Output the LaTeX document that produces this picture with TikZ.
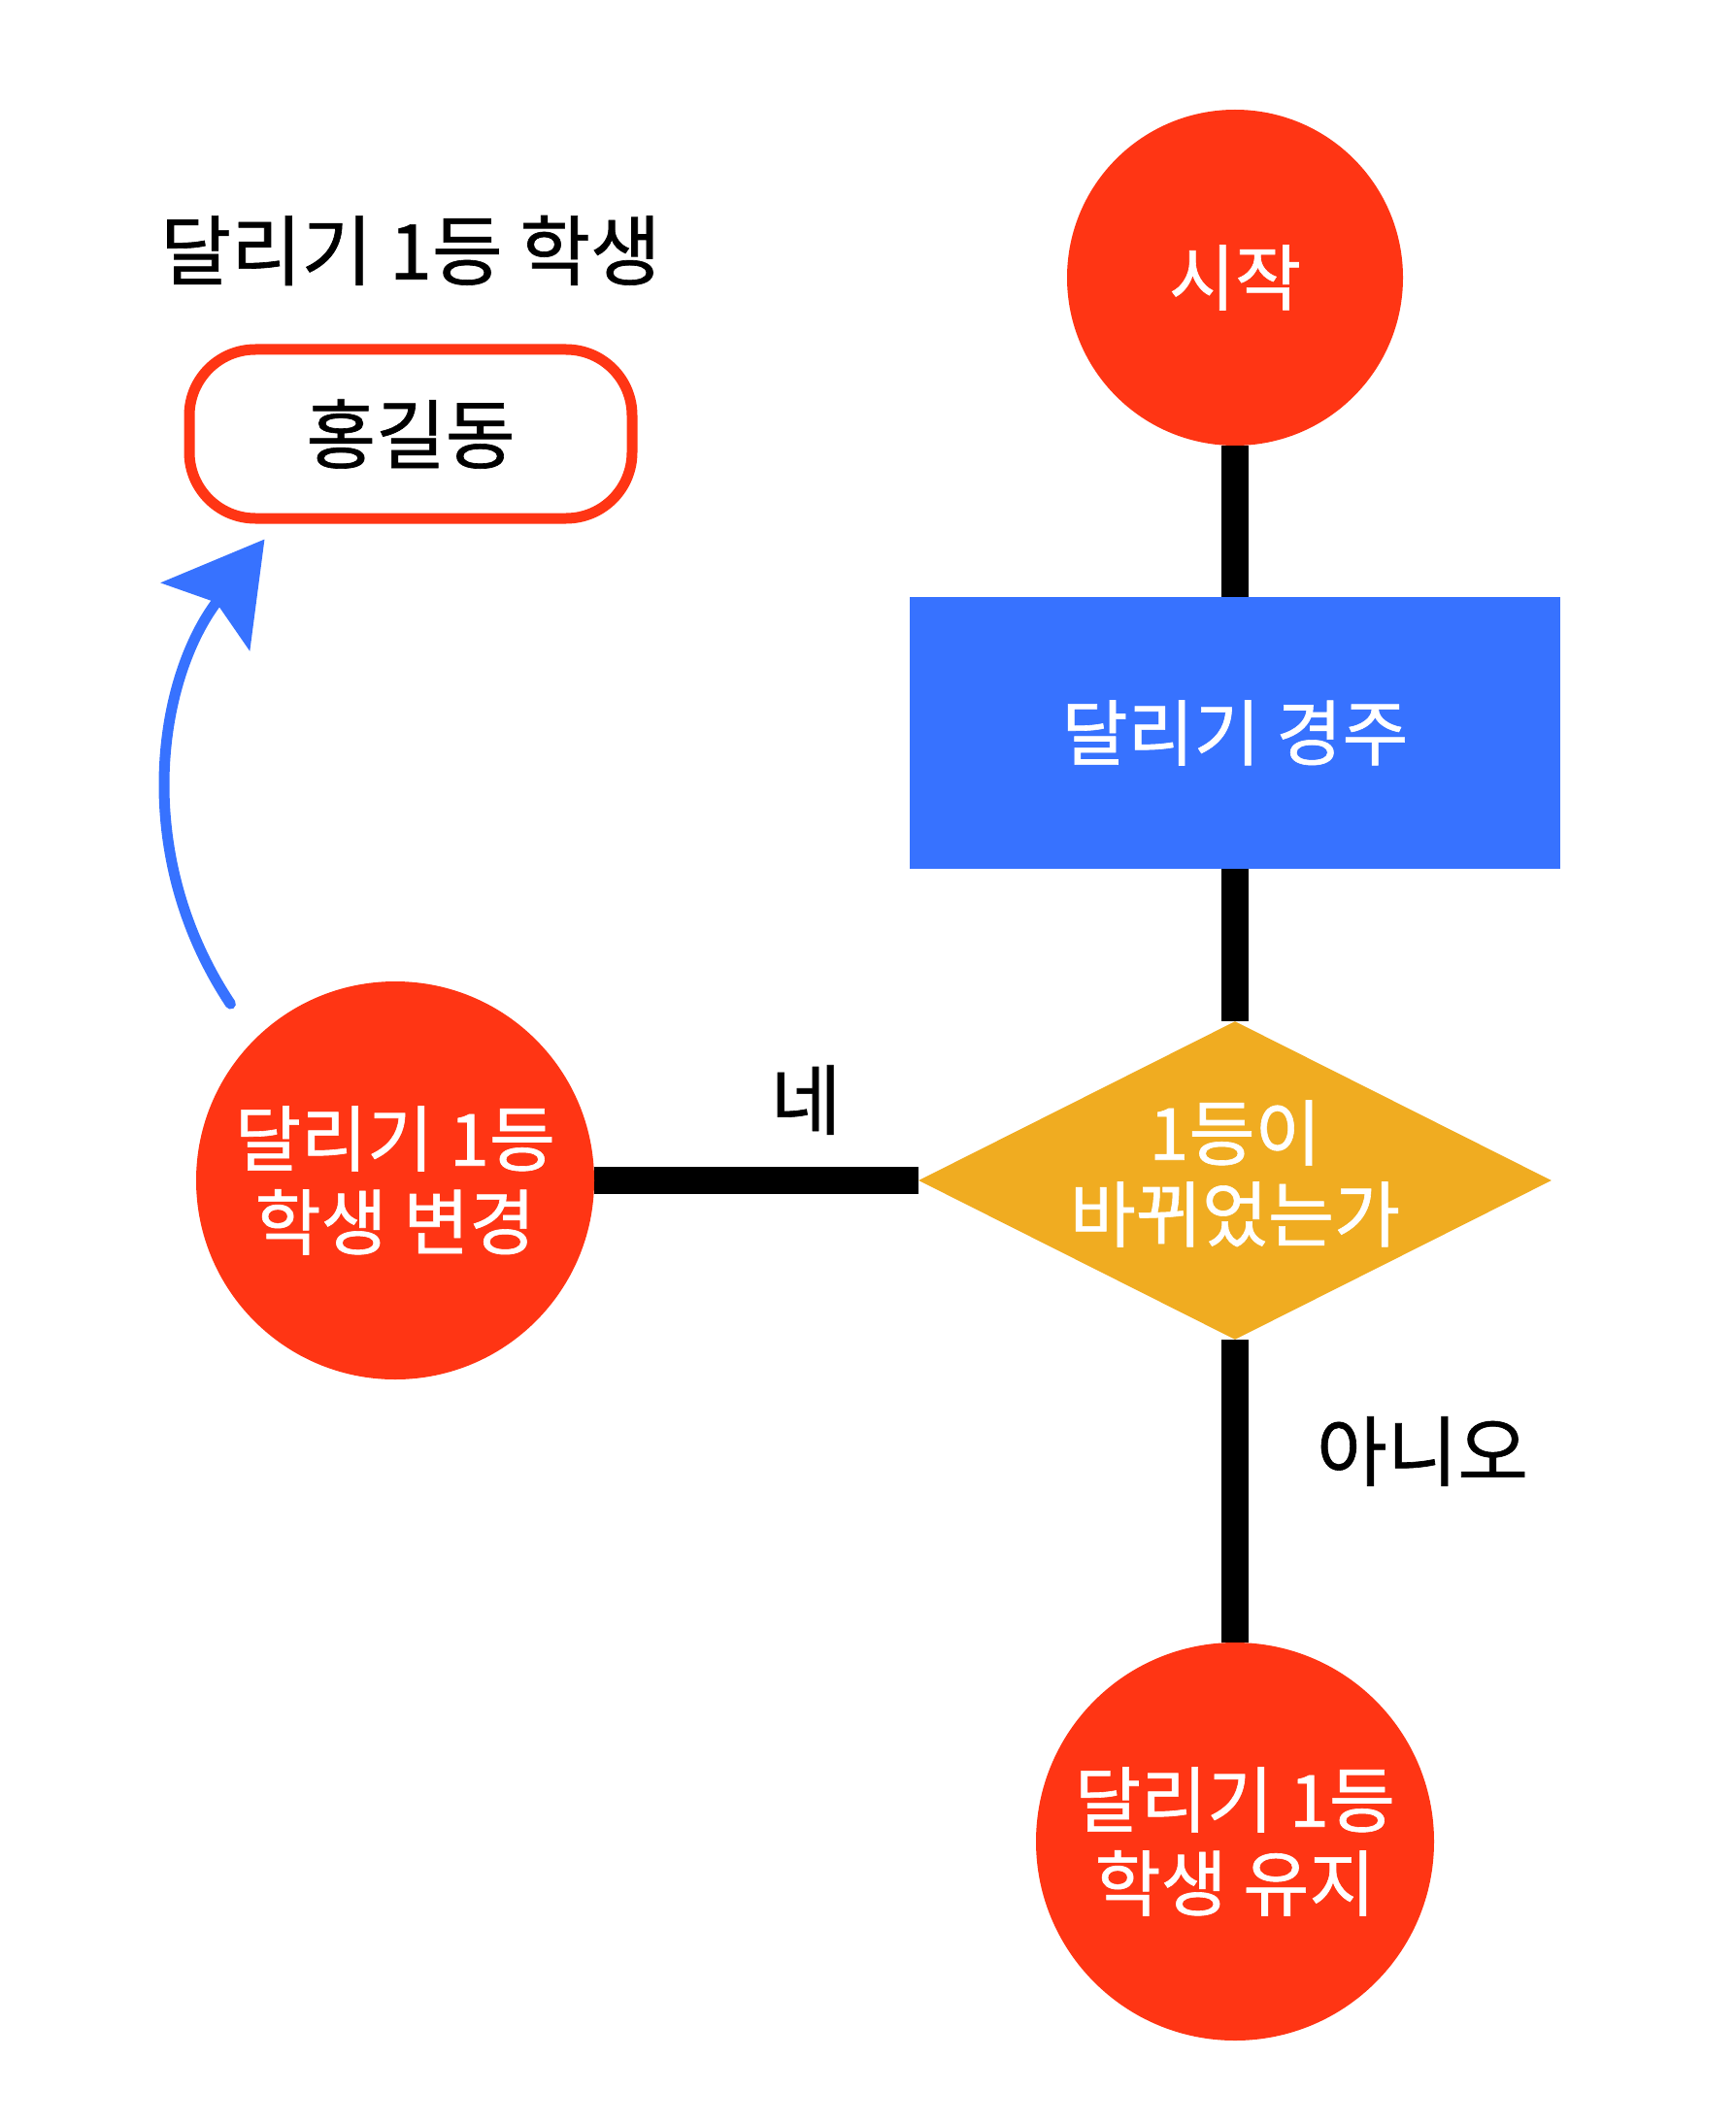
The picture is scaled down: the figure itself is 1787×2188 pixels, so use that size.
\documentclass[tikz,border=0pt]{standalone}
\usepackage{fontspec}
\setmainfont{Noto Sans CJK KR}[FakeBold=0.8]
\usetikzlibrary{shapes.geometric,arrows.meta,backgrounds}
\definecolor{startred}{HTML}{FF3514}
\definecolor{raceblue}{HTML}{3772FF}
\definecolor{askorange}{HTML}{F0AC21}
\begin{document}
\begin{tikzpicture}[x=0.5pt,y=-0.5pt,
 redcircle/.style={circle,fill=startred,text=white,inner sep=0pt,align=center,font=\fontsize{37}{43}\selectfont},
 racebox/.style={rectangle,fill=raceblue,text=white,minimum width=335pt,minimum height=140pt,font=\fontsize{37}{43}\selectfont},
 decision/.style={diamond,fill=askorange,minimum width=326pt,minimum height=164pt,inner sep=0pt},
 whitetext/.style={text=white,align=center,font=\fontsize{37}{42}\selectfont},
 blacktext/.style={text=black,font=\fontsize{39.5}{46}\selectfont},
 namebox/.style={rectangle,rounded corners=34pt,draw=startred,line width=5.5pt,minimum width=228pt,minimum height=87pt,font=\fontsize{39}{46}\selectfont},
 flowline/.style={line width=14pt,black},
 curvearrow/.style={line width=5.5pt,raceblue,line cap=round,-{Stealth[length=50pt,width=57pt,inset=9pt]}}]
 \useasboundingbox (0,0) rectangle (1787,2188);
 %
 \node[redcircle,minimum size=173pt] (start) at (1272,286) {시작};
 \node[racebox] (race) at (1272,755) {달리기 경주};
 \node[decision] (check) at (1272,1216) {};
 \node[whitetext] (checktext) at (1272,1209) {1등이\\바뀌었는가};
 \node[redcircle,minimum size=205pt] (change) at (407,1216) {달리기 1등\\학생 변경};
 \node[redcircle,minimum size=205pt] (keep) at (1272,1897) {달리기 1등\\학생 유지};
 %
 \node[blacktext] (title) at (423,258) {달리기 1등 학생};
 \node[namebox] (name) at (423,447) {홍길동};
 %
 \begin{scope}[on background layer]
 \draw[flowline] (start) -- (race);
 \draw[flowline] (race) -- (check);
 \draw[flowline] (check) -- (keep);
 \draw[flowline] (change) -- (check);
 \end{scope}
 \node[blacktext] (yes) at (830,1133) {네};
 \node[blacktext] (no) at (1465,1495) {아니오};
 %
 \coordinate (tiptarget) at ([shift={(83,16)}]name.south west);
 \draw[curvearrow,shorten <=22pt] (change.north west) .. controls (135,880) and (162,700) .. (tiptarget);
\end{tikzpicture}
\end{document}
